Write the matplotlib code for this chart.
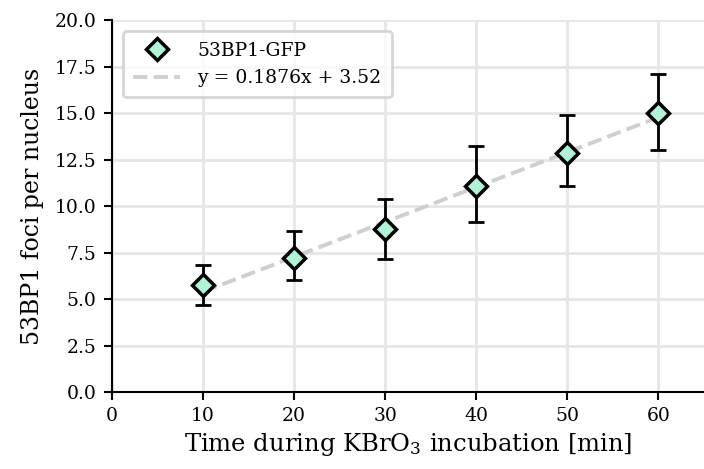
import numpy as np
import matplotlib.pyplot as plt

plt.rcParams['font.family'] = 'DejaVu Serif'
plt.rcParams['mathtext.fontset'] = 'dejavuserif'

time_min = [10, 20, 30, 40, 50, 60]
foci_mean = [5.74, 7.19, 8.76, 11.06, 12.85, 15.0]
foci_low = [4.68, 6.01, 7.14, 9.14, 11.07, 13.02]
foci_high = [6.83, 8.68, 10.38, 13.22, 14.89, 17.1]
fit_slope, fit_intercept = 0.1876, 3.52

MINT, FITGRAY, GRID = '#b2f2d6', '#cfcfcf', '#e6e6e6'

fig = plt.figure(figsize=(7.04, 4.69), dpi=100)
ax = fig.add_axes([0.159, 0.164, 0.841, 0.793])

yerr = [np.array(foci_mean) - np.array(foci_low), np.array(foci_high) - np.array(foci_mean)]
ax.errorbar(time_min, foci_mean, yerr=yerr, fmt='none', ecolor='black', elinewidth=2,
            capsize=5.5, capthick=2, zorder=4)
ax.plot(time_min, foci_mean, 'D', ms=11, mfc=MINT, mec='black', mew=2.5, zorder=5,
        label='53BP1-GFP')

xf = np.array([time_min[0], time_min[-1]])
ax.plot(xf, fit_slope * xf + fit_intercept, '--', color=FITGRAY, lw=2.8, zorder=3,
        label=f'y = {fit_slope:.4f}x + {fit_intercept:.2f}')

ax.set_xlim(0, 65)
ax.set_ylim(0, 20)
ax.set_xticks(range(0, 61, 10))
ax.set_yticks(np.arange(0, 20.1, 2.5))
ax.set_yticklabels([f'{v:.1f}' for v in np.arange(0, 20.1, 2.5)])
ax.grid(True, color=GRID, lw=2, zorder=0)
ax.set_axisbelow(True)

for s in ['top', 'right']:
    ax.spines[s].set_visible(False)
for s in ['left', 'bottom']:
    ax.spines[s].set_linewidth(1.5)
ax.tick_params(labelsize=13.5, length=6, width=1.5, pad=5)

ax.set_xlabel('Time during KBrO$_3$ incubation [min]', fontsize=17.5, labelpad=4)
ax.set_ylabel('53BP1 foci per nucleus', fontsize=17, labelpad=8)

leg = ax.legend(loc='upper left', fontsize=13.5, frameon=True, borderpad=0.55, handlelength=2.5,
                handletextpad=0.9, borderaxespad=0.6)
leg.get_frame().set_edgecolor('#cccccc')
leg.get_frame().set_linewidth(2)

fig.savefig('out.png', dpi=100)
